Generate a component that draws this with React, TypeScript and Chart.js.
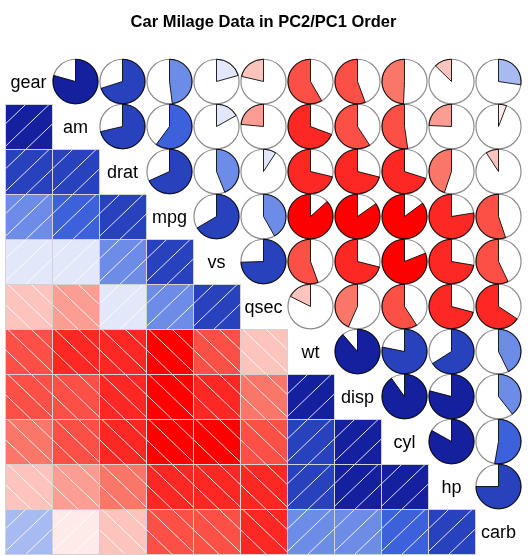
import React, { useEffect, useRef } from 'react';
import { Chart, registerables } from 'chart.js';

Chart.register(...registerables);

// ---------- data ----------
const chartTitle = 'Car Milage Data in PC2/PC1 Order';
const variables = ['gear', 'am', 'drat', 'mpg', 'vs', 'qsec', 'wt', 'disp', 'cyl', 'hp', 'carb'];

// correlations of each variable with the variables that follow it in `variables`
const corGear = [0.794, 0.700, 0.480, 0.206, -0.213, -0.583, -0.556, -0.493, -0.126, 0.274];
const corAm = [0.713, 0.600, 0.168, -0.235, -0.692, -0.591, -0.523, -0.243, 0.058];
const corDrat = [0.681, 0.440, 0.091, -0.712, -0.710, -0.700, -0.449, -0.091];
const corMpg = [0.664, 0.419, -0.868, -0.848, -0.852, -0.776, -0.551];
const corVs = [0.745, -0.555, -0.710, -0.811, -0.723, -0.570];
const corQsec = [-0.175, -0.434, -0.591, -0.708, -0.656];
const corWt = [0.888, 0.782, 0.659, 0.428];
const corDisp = [0.902, 0.791, 0.395];
const corCyl = [0.832, 0.527];
const corHp = [0.750];

const upperRows = [corGear, corAm, corDrat, corMpg, corVs, corQsec, corWt, corDisp, corCyl, corHp];

// ---------- colours ----------
const rampStops = [
  [255, 0, 0],
  [250, 128, 114],
  [255, 255, 255],
  [65, 105, 225],
  [0, 0, 128],
];
function makePalette(n: number): string[] {
  const out: string[] = [];
  for (let i = 0; i < n; i++) {
    const p = (i * (rampStops.length - 1)) / (n - 1);
    const k = Math.min(rampStops.length - 2, Math.floor(p));
    const f = p - k;
    const a = rampStops[k];
    const b = rampStops[k + 1];
    const c = a.map((v, idx) => Math.round(v + (b[idx] - v) * f));
    out.push(`rgb(${c[0]},${c[1]},${c[2]})`);
  }
  return out;
}
const palette = makePalette(14);
function colorFor(r: number): string {
  const idx = Math.min(13, Math.max(0, Math.round(7 * r + 6)));
  return palette[idx];
}

function corrOf(i: number, j: number): number {
  if (i === j) return 1;
  const a = Math.min(i, j);
  const b = Math.max(i, j);
  return upperRows[a][b - a - 1];
}

// ---------- plugin ----------
const corrgramPlugin = {
  id: 'corrgram',
  afterDatasetsDraw(chart: any) {
    const { ctx, scales, chartArea } = chart;
    const xs = scales.x;
    const ys = scales.y;
    const n = variables.length;
    ctx.save();

    // title
    ctx.fillStyle = '#000';
    ctx.font = 'bold 16.5px "Liberation Sans", Arial, sans-serif';
    ctx.textAlign = 'center';
    ctx.textBaseline = 'alphabetic';
    ctx.fillText(chartTitle, (chartArea.left + chartArea.right) / 2, 27);

    for (let i = 0; i < n; i++) {
      for (let j = 0; j < n; j++) {
        const x0 = xs.getPixelForValue(j);
        const x1 = xs.getPixelForValue(j + 1);
        const y0 = ys.getPixelForValue(i);
        const y1 = ys.getPixelForValue(i + 1);
        const w = x1 - x0;
        const h = y1 - y0;
        const cx = (x0 + x1) / 2;
        const cy = (y0 + y1) / 2;
        if (i === j) {
          ctx.fillStyle = '#000';
          ctx.font = '18px "Liberation Sans", Arial, sans-serif';
          ctx.textAlign = 'center';
          ctx.textBaseline = 'alphabetic';
          ctx.fillText(variables[i], cx, cy + 6.2);
          continue;
        }
        const r = corrOf(i, j);
        const col = colorFor(r);
        if (i > j) {
          // shaded cell
          ctx.fillStyle = col;
          ctx.fillRect(x0, y0, w, h);
          ctx.save();
          ctx.beginPath();
          ctx.rect(x0, y0, w, h);
          ctx.clip();
          ctx.strokeStyle = 'rgba(255,255,255,0.85)';
          ctx.lineWidth = 1;
          const offs = [-0.45, 0.05, 0.55];
          for (const c of offs) {
            ctx.beginPath();
            if (r > 0) {
              // v = u + c  (v measured from bottom)
              ctx.moveTo(x0, y1 - c * h);
              ctx.lineTo(x1, y1 - (1 + c) * h);
            } else {
              // v = 1 - u + c
              ctx.moveTo(x0, y1 - (1 + c) * h);
              ctx.lineTo(x1, y1 - c * h);
            }
            ctx.stroke();
          }
          ctx.restore();
          ctx.strokeStyle = 'rgb(211,211,211)';
          ctx.lineWidth = 1;
          ctx.strokeRect(Math.round(x0) + 0.5, Math.round(y0) + 0.5, Math.round(w), Math.round(h));
        } else {
          // pie cell
          const rx = w * 0.48;
          const ry = h * 0.495;
          const start = -Math.PI / 2;
          const end = start + 2 * Math.PI * r;
          if (Math.abs(r) > 0) {
            ctx.beginPath();
            ctx.moveTo(cx, cy);
            ctx.ellipse(cx, cy, rx, ry, 0, start, end, r < 0);
            ctx.closePath();
            ctx.fillStyle = col;
            ctx.fill();
            ctx.strokeStyle = 'rgba(0,0,0,0.85)';
            ctx.lineWidth = 1;
            ctx.stroke();
          }
          ctx.beginPath();
          ctx.ellipse(cx, cy, rx, ry, 0, 0, Math.PI * 2);
          ctx.strokeStyle = 'rgba(0,0,0,0.45)';
          ctx.lineWidth = 1.2;
          ctx.stroke();
        }
      }
    }
    ctx.restore();
  },
};

export default function App() {
  const canvasRef = useRef<HTMLCanvasElement | null>(null);
  useEffect(() => {
    if (!canvasRef.current) return;
    const points: { x: number; y: number }[] = [];
    for (let i = 0; i < variables.length; i++) {
      for (let j = 0; j < variables.length; j++) {
        points.push({ x: j + 0.5, y: i + 0.5 });
      }
    }
    const chart = new Chart(canvasRef.current, {
      type: 'scatter',
      data: {
        datasets: [
          {
            label: 'cells',
            data: points,
            pointRadius: 0,
            pointHoverRadius: 0,
          },
        ],
      },
      options: {
        responsive: false,
        animation: false,
        events: [],
        layout: { padding: { left: 5, right: 7, top: 59, bottom: 2 } },
        plugins: {
          legend: { display: false },
          tooltip: { enabled: false },
          title: { display: false },
        },
        scales: {
          x: { type: 'linear', min: 0, max: 11, display: false },
          y: { type: 'linear', min: 0, max: 11, reverse: true, display: false },
        },
      },
      plugins: [corrgramPlugin],
    });
    return () => chart.destroy();
  }, []);
  return (
    <div style={{ position: 'absolute', left: 0, top: 0, width: 529, height: 556, background: '#fff' }}>
      <canvas ref={canvasRef} width={529} height={556} style={{ display: 'block' }} />
    </div>
  );
}
